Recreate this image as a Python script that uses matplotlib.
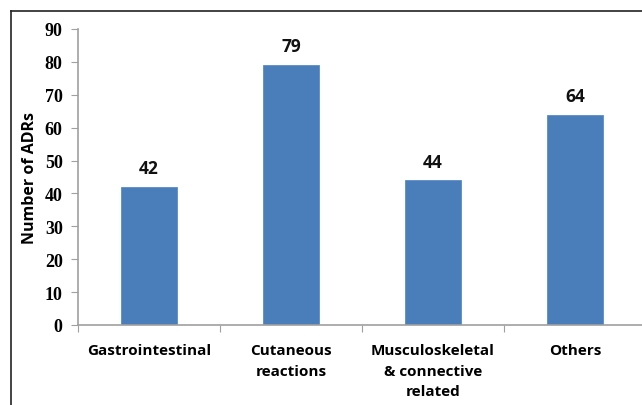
import matplotlib.pyplot as plt
from matplotlib.lines import Line2D

categories = ['Gastrointestinal', 'Cutaneous\nreactions', 'Musculoskeletal\n& connective\nrelated', 'Others']
counts = [42, 79, 44, 64]
yticks = [0, 10, 20, 30, 40, 50, 60, 70, 80, 90]

fig = plt.figure(figsize=(6.42, 4.06), dpi=100)
ax = fig.add_axes([78 / 642, 1 - 326 / 406, 568 / 642, 296 / 406])

x = range(len(categories))
ax.bar(x, counts, width=0.4, color='#4a7ebb', edgecolor='#5b8bc6', linewidth=0.6)

for i, v in enumerate(counts):
    ax.annotate(str(v), (i, v), xytext=(0, 7), textcoords='offset points',
                ha='center', va='bottom', fontsize=12.5, fontweight='bold',
                family='Open Sans', color='#111111')

ax.set_xlim(-0.5, 3.5)
ax.set_ylim(0, 90)
ax.set_yticks(yticks)
ax.set_yticklabels([str(t) for t in yticks], family='Liberation Serif',
                   fontweight='bold', fontsize=13)
ax.set_xticks([-0.5, 0.5, 1.5, 2.5, 3.5])
ax.set_xticklabels([])
ax.set_xticks(list(x), minor=True)
ax.set_xticklabels(categories, minor=True, family='Open Sans', fontweight='bold',
                   fontsize=11, linespacing=1.6, va='top')
ax.tick_params(axis='x', which='minor', length=0, pad=13)
ax.tick_params(axis='x', which='major', length=5, color='#a0a0a0', direction='out')
ax.tick_params(axis='y', length=5, color='#a0a0a0', pad=6)

for s in ['top', 'right']:
    ax.spines[s].set_visible(False)
for s in ['left', 'bottom']:
    ax.spines[s].set_color('#a0a0a0')
    ax.spines[s].set_linewidth(1.2)

ax.set_ylabel('Number of ADRs', family='Open Sans', fontweight='bold', fontsize=11.5, labelpad=5)

# frame around the chart (left and top edges visible)
fig.add_artist(Line2D([11 / 642, 11 / 642], [0, 1 - 12 / 406], color='#222222', lw=1.2))
fig.add_artist(Line2D([11 / 642, 1], [1 - 12 / 406, 1 - 12 / 406], color='#222222', lw=1.2))

fig.savefig('out.png', dpi=100)
